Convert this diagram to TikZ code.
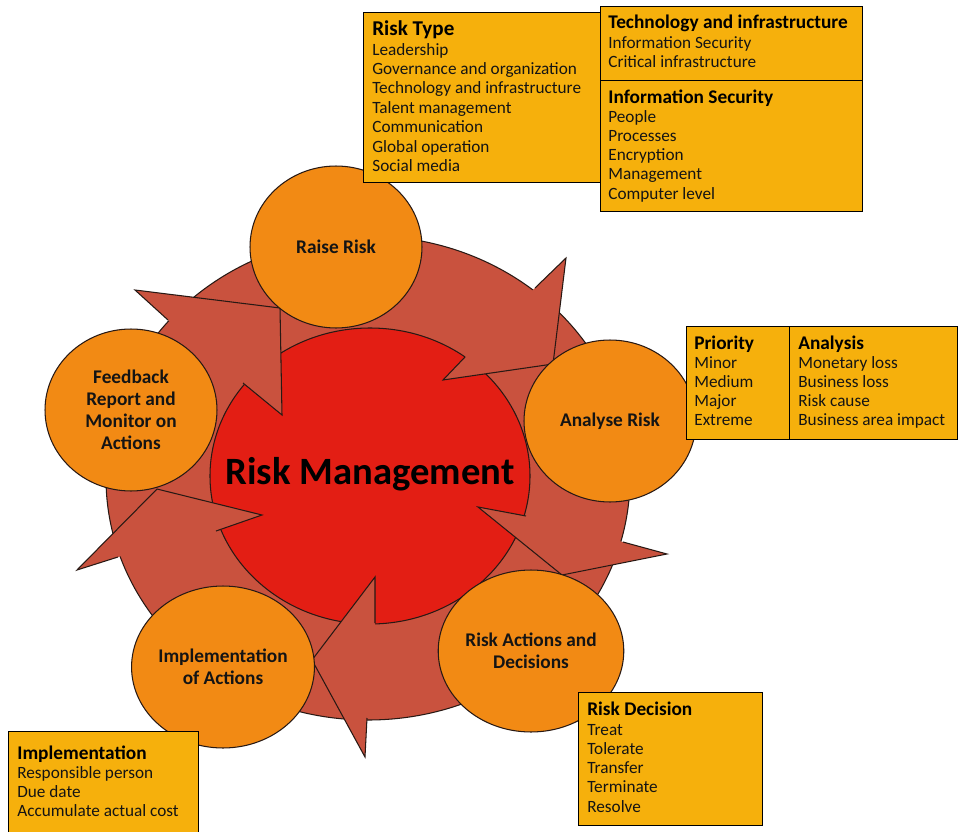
\documentclass[tikz,border=0pt]{standalone}
\usepackage{fontspec}
\setmainfont{Carlito}
\usetikzlibrary{shapes.geometric}
\definecolor{boxfill}{RGB}{246,176,12}
\definecolor{circfill}{RGB}{242,138,20}
\definecolor{ringc}{RGB}{201,82,62}
\definecolor{redc}{RGB}{227,30,20}
\definecolor{outc}{RGB}{40,25,20}
\definecolor{txtc}{RGB}{20,20,20}
\begin{document}
\begin{tikzpicture}[x=0.02cm,y=-0.02cm,
  outl/.style={draw=outc,line width=0.6pt,line join=miter},
  circ/.style={ellipse,draw=outc,line width=0.6pt,fill=circfill,minimum width=3.44cm,minimum height=3.24cm,inner sep=0pt,align=center,text=txtc,font=\fontsize{11}{12.5}\selectfont\bfseries},
  boxnode/.style={draw=black,line width=0.6pt,fill=boxfill,anchor=north west,inner sep=0pt},
  item/.style={anchor=base west,inner sep=0pt,text=txtc,font=\fontsize{9.8}{11}\selectfont},
  head/.style={anchor=base west,inner sep=0pt,text=black,font=\fontsize{11}{13}\selectfont\bfseries}]
\useasboundingbox (0,0) rectangle (958,832);
\fill[white] (0,0) rectangle (958,832);

% ring and centre
\draw[outl,fill=ringc] (368,478) ellipse [x radius=262,y radius=242];
\draw[outl,fill=redc] (370,476) ellipse [x radius=160,y radius=148];

% arrowheads
\fill[ringc] (535,288) -- (566,258) -- (553,364) -- (443,380) -- (465,357) -- cycle;
\draw[outl] (535,288) -- (566,258) -- (553,364) -- (443,380) -- (465,357);
\fill[ringc] (623,542) -- (667,554) -- (562,575) -- (478,507) -- (526,516) -- cycle;
\draw[outl] (623,542) -- (667,554) -- (562,575) -- (478,507) -- (526,516);
\fill[ringc] (367,718) -- (365,757) -- (312,660) -- (375,577) -- (375,623) -- cycle;
\draw[outl] (367,718) -- (365,757) -- (312,660) -- (375,577) -- (375,623);
\fill[ringc] (118,557) -- (77,570) -- (157,489) -- (262,515) -- (216,531) -- cycle;
\draw[outl] (118,557) -- (77,570) -- (157,489) -- (262,515) -- (216,531);
\fill[ringc] (168,320) -- (135,290) -- (280,308) -- (282,415) -- (243,383) -- cycle;
\draw[outl] (168,320) -- (135,290) -- (280,308) -- (282,415) -- (243,383);

\node[inner sep=0pt,font=\fontsize{22}{24}\selectfont\bfseries,text=black] (rm) at (370,474) {Risk Management};

% stage circles
\node[circ] (raise) at (336,247) {Raise Risk};
\node[circ] (analyse) at (610,421) {Analyse Risk};
\node[circ] (actions) at (531,651) {Risk Actions and\\Decisions};
\node[circ] (impl) at (223,667) {Implementation\\of Actions};
\node[circ] (feed) at (131,410) {Feedback\\Report and\\Monitor on\\Actions};

% Risk type box
\node[boxnode,minimum width=4.74cm,minimum height=3.4cm] (rtbox) at (363,12) {};
\node[head,font=\fontsize{12}{14}\selectfont\bfseries] (rth) at (372,35) {Risk Type};
\foreach \t [count=\i] in {Leadership,Governance and organization,Technology and infrastructure,Talent management,Communication,Global operation,Social media}
  \node[item] (rt\i) at (372,{55+19.4*(\i-1)}) {\t};

% Technology box
\node[boxnode,minimum width=5.24cm,minimum height=1.48cm] (tibox) at (600,6) {};
\node[head] (tih) at (608,28) {Technology and infrastructure};
\foreach \t [count=\i] in {Information Security,Critical infrastructure}
  \node[item] (ti\i) at (608,{48+19.4*(\i-1)}) {\t};

% Information security box
\node[boxnode,minimum width=5.24cm,minimum height=2.62cm] (isbox) at (600,80) {};
\node[head] (ish) at (608,103) {Information Security};
\foreach \t [count=\i] in {People,Processes,Encryption,Management,Computer level}
  \node[item] (is\i) at (608,{122+19.3*(\i-1)}) {\t};

% Priority box
\node[boxnode,minimum width=2.06cm,minimum height=2.26cm] (prbox) at (686,326) {};
\node[head] (prh) at (694,349) {Priority};
\foreach \t [count=\i] in {Minor,Medium,Major,Extreme}
  \node[item] (pr\i) at (694,{368+19.3*(\i-1)}) {\t};

% Analysis box
\node[boxnode,minimum width=3.36cm,minimum height=2.26cm] (anbox) at (789,326) {};
\node[head] (anh) at (798,349) {Analysis};
\foreach \t [count=\i] in {Monetary loss,Business loss,Risk cause,Business area impact}
  \node[item] (an\i) at (798,{368+19.3*(\i-1)}) {\t};

% Risk decision box
\node[boxnode,minimum width=3.68cm,minimum height=2.66cm] (rdbox) at (578,692) {};
\node[head] (rdh) at (587,715) {Risk Decision};
\foreach \t [count=\i] in {Treat,Tolerate,Transfer,Terminate,Resolve}
  \node[item] (rd\i) at (587,{735+19.3*(\i-1)}) {\t};

% Implementation box
\node[boxnode,minimum width=3.8cm,minimum height=2.4cm] (imbox) at (8,731) {};
\node[head] (imh) at (17,759) {Implementation};
\foreach \t [count=\i] in {Responsible person,Due date,Accumulate actual cost}
  \node[item] (im\i) at (17,{778+19.4*(\i-1)}) {\t};
\end{tikzpicture}
\end{document}
